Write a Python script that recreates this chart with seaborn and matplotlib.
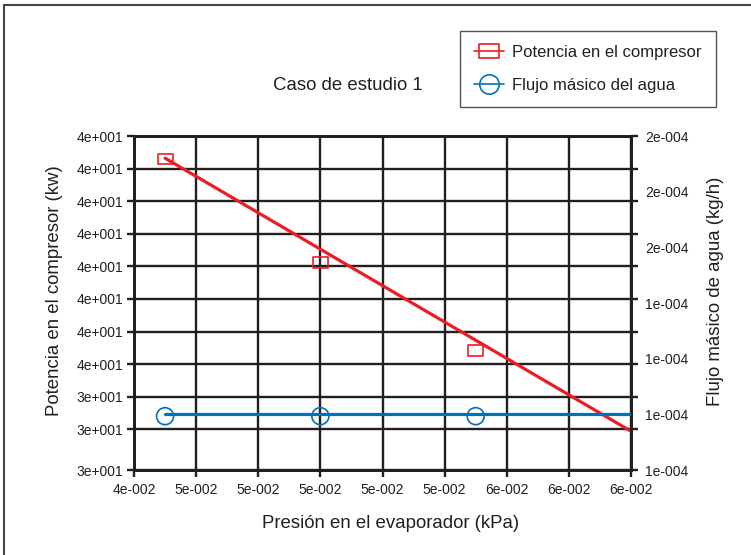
import numpy as np
import pandas as pd
import seaborn as sns
import matplotlib.pyplot as plt
from matplotlib.path import Path
from matplotlib.lines import Line2D
from matplotlib.ticker import FuncFormatter

# data
presion = [0.045, 0.050, 0.055]
potencia = [41.30, 38.12, 35.42]
flujo = [1.145e-4, 1.145e-4, 1.145e-4]

# trend lines as drawn in the reference
linea_x = [0.045, 0.060]
linea_potencia = [41.32, 32.94]
linea_flujo = [1.15e-4, 1.15e-4]

x_ticks = [0.044, 0.046, 0.048, 0.050, 0.052, 0.054, 0.056, 0.058, 0.060]
y_ticks = [31.75, 33, 34, 35, 36, 37, 38, 39, 40, 41, 42]
y2_ticks = [1.0e-4, 1.15e-4, 1.3e-4, 1.45e-4, 1.6e-4, 1.75e-4, 1.9e-4]

RED = '#ED1C24'
BLUE = '#0072BC'
INK = '#231F20'

sns.set_style('white')
plt.rcParams['font.family'] = ['Liberation Sans', 'DejaVu Sans']
plt.rcParams['text.color'] = INK


def sci(v, pos=None):
    m, e = f"{v:.0e}".split('e')
    return f"{m}e{int(e):+04d}"


rect = Path([(-1.45, -1), (1.45, -1), (1.45, 1), (-1.45, 1), (-1.45, -1)],
            [Path.MOVETO, Path.LINETO, Path.LINETO, Path.LINETO, Path.CLOSEPOLY])

fig = plt.figure(figsize=(7.51, 5.55), dpi=100)
ax = fig.add_axes([134 / 751, 1 - 470 / 555, 497 / 751, 334 / 555])
ax2 = ax.twinx()

df = pd.DataFrame({'presion': presion, 'potencia': potencia, 'flujo': flujo})
lin = pd.DataFrame({'x': linea_x, 'pot': linea_potencia, 'flu': linea_flujo})

sns.lineplot(data=lin, x='x', y='pot', ax=ax, color=RED, lw=2.3, zorder=3)
sns.scatterplot(data=df, x='presion', y='potencia', ax=ax, marker=rect, s=115,
                facecolors='none', edgecolor=RED, linewidth=1.2, zorder=4)
sns.lineplot(data=lin, x='x', y='flu', ax=ax2, color=BLUE, lw=2.3, zorder=3)
sns.scatterplot(data=df, x='presion', y='flujo', ax=ax2, marker='o', s=150,
                facecolors='none', edgecolor=BLUE, linewidth=1.2, zorder=4)

ax.set_xlim(0.044, 0.060)
ax.set_ylim(31.75, 42)
ax2.set_ylim(1.0e-4, 1.9e-4)
ax.set_xticks(x_ticks)
ax.set_yticks(y_ticks)
ax2.set_yticks(y2_ticks)
ax.xaxis.set_major_formatter(FuncFormatter(sci))
ax.yaxis.set_major_formatter(FuncFormatter(sci))
ax2.yaxis.set_major_formatter(FuncFormatter(sci))

ax.grid(True, color=INK, lw=1.7)
ax.set_axisbelow(True)
ax.tick_params(axis='both', direction='out', length=5, width=1.7, color=INK,
               labelsize=10, labelcolor=INK, pad=3)
ax.tick_params(axis='y', right=True, labelright=False)
ax.tick_params(axis='x', bottom=True, pad=4)
ax2.tick_params(axis='y', length=0, labelsize=10, labelcolor=INK, pad=10)
for a in (ax, ax2):
    for sp in a.spines.values():
        sp.set_color(INK)
        sp.set_linewidth(2)

ax.set_xlabel('')
ax.set_ylabel('')
ax2.set_ylabel('')
fig.text(55 / 751, 1 - 291 / 555, 'Potencia en el compresor (kw)', rotation=90,
         ha='center', va='center', fontsize=13.4)
fig.text(715 / 751, 1 - 291 / 555, 'Flujo másico de agua (kg/h)', rotation=90,
         ha='center', va='center', fontsize=13.4)
fig.text(391 / 751, 1 - 524 / 555, 'Presión en el evaporador (kPa)',
         ha='center', va='center', fontsize=13.4)
fig.text(348 / 751, 1 - 85 / 555, 'Caso de estudio 1',
         ha='center', va='center', fontsize=13.4)

handles = [
    Line2D([], [], color=RED, lw=1.2, marker=rect, markersize=15,
           markerfacecolor='none', markeredgecolor=RED, markeredgewidth=1.2),
    Line2D([], [], color=BLUE, lw=1.2, marker='o', markersize=14,
           markerfacecolor='none', markeredgecolor=BLUE, markeredgewidth=1.2),
]
leg = fig.legend(handles, ['Potencia en el compresor', 'Flujo másico del agua'],
                 loc='upper left', bbox_to_anchor=(460 / 751, 1 - 31 / 555),
                 fontsize=12, frameon=True, fancybox=False, framealpha=1,
                 edgecolor='#555555', handlelength=1.8, handletextpad=0.5,
                 labelspacing=1.05, borderpad=0.85, borderaxespad=0)
leg.get_frame().set_linewidth(1)

# page border
fig.add_artist(Line2D([4 / 751, 1], [1 - 5 / 555, 1 - 5 / 555], color='#444444', lw=1.5))
fig.add_artist(Line2D([4 / 751, 4 / 751], [0, 1 - 5 / 555], color='#444444', lw=1.5))

fig.savefig('out.png', dpi=100)
